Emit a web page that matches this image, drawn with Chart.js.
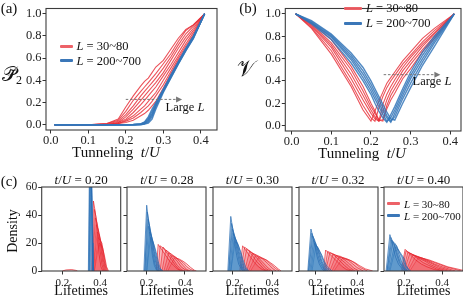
<!DOCTYPE html>
<html>
<head>
<meta charset="utf-8">
<script src="https://cdn.jsdelivr.net/npm/chart.js@4.4.1/dist/chart.umd.min.js"></script>
<style>
body { margin: 0; width: 463px; height: 297px; background: #fff; position: relative; overflow: hidden; font-family: 'Liberation Serif', 'Times New Roman', serif; color: #111; }
.lbl { position: absolute; white-space: nowrap; line-height: 1; }
.legline { position: absolute; height: 3px; border-radius: 1px; }
</style>
</head>
<body>
<script>
// ---- (a) purity vs tunneling, shared grid ----
const tA = [0.01, 0.1, 0.15, 0.18, 0.2, 0.22, 0.24, 0.25, 0.26, 0.27, 0.28, 0.3, 0.32, 0.34, 0.36, 0.38, 0.41];
const pRed = [
    [0, 0, 0.01, 0.05, 0.16, 0.26, 0.35, 0.39, 0.42, 0.47, 0.52, 0.58, 0.68, 0.78, 0.86, 0.9, 1.0],
    [0, 0, 0.01, 0.04, 0.12, 0.22, 0.3, 0.34, 0.38, 0.42, 0.46, 0.55, 0.64, 0.75, 0.85, 0.9, 1.0],
    [0, 0, 0.005, 0.03, 0.09, 0.17, 0.26, 0.3, 0.34, 0.38, 0.42, 0.51, 0.61, 0.72, 0.82, 0.89, 1.0],
    [0, 0, 0, 0.02, 0.07, 0.14, 0.22, 0.26, 0.3, 0.34, 0.38, 0.47, 0.58, 0.69, 0.79, 0.87, 1.0],
    [0, 0, 0, 0.02, 0.05, 0.11, 0.18, 0.22, 0.26, 0.3, 0.34, 0.44, 0.54, 0.65, 0.76, 0.85, 1.0],
    [0, 0, 0, 0.01, 0.04, 0.08, 0.14, 0.17, 0.21, 0.25, 0.29, 0.4, 0.51, 0.62, 0.73, 0.83, 1.0],
    [0, 0, 0, 0.01, 0.03, 0.06, 0.11, 0.14, 0.17, 0.21, 0.26, 0.36, 0.48, 0.6, 0.71, 0.81, 1.0],
    [0, 0, 0, 0.01, 0.02, 0.04, 0.08, 0.1, 0.13, 0.17, 0.21, 0.33, 0.46, 0.58, 0.69, 0.79, 1.0]
];
const pBlue = [
    [0, 0, 0, 0, 0, 0.002, 0.008, 0.025, 0.07, 0.14, 0.2, 0.32, 0.45, 0.57, 0.69, 0.8, 1.0],
    [0, 0, 0, 0, 0, 0.001, 0.006, 0.02, 0.055, 0.12, 0.19, 0.315, 0.44, 0.565, 0.685, 0.795, 1.0],
    [0, 0, 0, 0, 0, 0, 0.004, 0.015, 0.045, 0.1, 0.18, 0.31, 0.435, 0.56, 0.68, 0.79, 1.0],
    [0, 0, 0, 0, 0, 0, 0.003, 0.01, 0.035, 0.085, 0.17, 0.305, 0.43, 0.555, 0.675, 0.785, 1.0],
    [0, 0, 0, 0, 0, 0, 0.002, 0.008, 0.025, 0.07, 0.16, 0.3, 0.425, 0.55, 0.67, 0.78, 1.0],
    [0, 0, 0, 0, 0, 0, 0, 0.005, 0.015, 0.05, 0.14, 0.29, 0.42, 0.545, 0.665, 0.775, 1.0]
];

// ---- (b) visibility vs tunneling ----
const tB = [0.01, 0.05, 0.1, 0.15, 0.18, 0.2, 0.21, 0.22, 0.23, 0.24, 0.25, 0.26, 0.28, 0.3, 0.33, 0.36, 0.41];
const vRed = [
    [1, 0.87, 0.64, 0.35, 0.14, 0.04, 0.13, 0.22, 0.3, 0.38, 0.43, 0.48, 0.58, 0.66, 0.78, 0.87, 1],
    [1, 0.88, 0.67, 0.38, 0.18, 0.07, 0.04, 0.16, 0.26, 0.34, 0.4, 0.45, 0.55, 0.63, 0.75, 0.85, 1],
    [1, 0.89, 0.7, 0.42, 0.23, 0.11, 0.06, 0.04, 0.19, 0.28, 0.35, 0.41, 0.52, 0.61, 0.73, 0.83, 1],
    [1, 0.9, 0.72, 0.46, 0.27, 0.14, 0.08, 0.04, 0.12, 0.23, 0.31, 0.37, 0.49, 0.58, 0.71, 0.82, 1],
    [1, 0.91, 0.74, 0.5, 0.31, 0.17, 0.11, 0.05, 0.04, 0.18, 0.27, 0.33, 0.45, 0.55, 0.68, 0.8, 1],
    [1, 0.92, 0.77, 0.53, 0.35, 0.2, 0.13, 0.05, 0.05, 0.15, 0.23, 0.29, 0.42, 0.51, 0.66, 0.78, 1]
];
const vBlue = [
    [1, 0.91, 0.77, 0.56, 0.4, 0.28, 0.2, 0.13, 0.07, 0.03, 0.1, 0.17, 0.33, 0.48, 0.66, 0.8, 1],
    [1, 0.92, 0.79, 0.59, 0.43, 0.31, 0.24, 0.17, 0.1, 0.04, 0.07, 0.14, 0.3, 0.45, 0.63, 0.78, 1],
    [1, 0.92, 0.8, 0.61, 0.46, 0.34, 0.27, 0.2, 0.13, 0.07, 0.03, 0.11, 0.27, 0.42, 0.6, 0.76, 1],
    [1, 0.93, 0.81, 0.63, 0.49, 0.37, 0.3, 0.23, 0.16, 0.09, 0.04, 0.08, 0.24, 0.38, 0.57, 0.74, 1],
    [1, 0.94, 0.82, 0.65, 0.52, 0.4, 0.33, 0.26, 0.19, 0.12, 0.06, 0.05, 0.2, 0.34, 0.54, 0.71, 1]
];

// ---- (c) lifetime densities, [lifetime, density] pairs ----
const cTitles = ['0.20', '0.28', '0.30', '0.32', '0.40'];
const cRed020 = [
    [[0.355, 0], [0.365, 50], [0.375, 42], [0.385, 28], [0.395, 12], [0.405, 3], [0.415, 0]],
    [[0.36, 0], [0.37, 44], [0.38, 38], [0.39, 27], [0.4, 15], [0.41, 5], [0.42, 0]],
    [[0.36, 0], [0.375, 38], [0.385, 34], [0.395, 26], [0.405, 16], [0.415, 6], [0.425, 0]],
    [[0.365, 0], [0.38, 33], [0.39, 30], [0.4, 24], [0.41, 15], [0.42, 6], [0.43, 0]],
    [[0.365, 0], [0.385, 28], [0.395, 26], [0.405, 21], [0.415, 14], [0.425, 5], [0.435, 0]],
    [[0.37, 0], [0.39, 24], [0.4, 22], [0.41, 20], [0.42, 12], [0.43, 4], [0.44, 0]],
    [[0.37, 0], [0.395, 20], [0.405, 19], [0.415, 16], [0.425, 10], [0.435, 3], [0.445, 0]],
    [[0.2, 0], [0.22, 0.8], [0.25, 1], [0.27, 0.5], [0.28, 0]]
];
const cBlue020 = [
    [[0.338, 0], [0.344, 75], [0.352, 70], [0.358, 20], [0.362, 0]],
    [[0.341, 0], [0.347, 85], [0.355, 60], [0.36, 10], [0.365, 0]],
    [[0.343, 0], [0.35, 90], [0.357, 50], [0.362, 8], [0.367, 0]],
    [[0.346, 0], [0.353, 80], [0.36, 40], [0.366, 0]]
];
const cRed028 = [
    [[0.25, 0], [0.26, 19], [0.28, 15], [0.3, 11], [0.32, 7], [0.34, 4], [0.36, 1.5], [0.38, 0]],
    [[0.26, 0], [0.27, 18], [0.29, 16], [0.31, 12], [0.33, 8], [0.35, 4], [0.37, 1], [0.39, 0]],
    [[0.27, 0], [0.285, 17], [0.3, 15], [0.32, 12], [0.34, 8], [0.36, 4], [0.38, 1], [0.4, 0]],
    [[0.28, 0], [0.3, 15], [0.32, 13], [0.34, 10], [0.36, 7], [0.38, 3], [0.4, 1], [0.42, 0]],
    [[0.29, 0], [0.315, 13], [0.33, 12], [0.35, 10], [0.37, 7], [0.39, 4], [0.41, 1], [0.43, 0]],
    [[0.3, 0], [0.33, 11], [0.35, 10], [0.37, 8], [0.39, 6], [0.41, 3], [0.43, 1], [0.45, 0]],
    [[0.31, 0], [0.345, 9.5], [0.37, 8.5], [0.39, 7], [0.41, 5], [0.43, 2.5], [0.45, 0.5], [0.46, 0]]
];
const cBlue028 = [
    [[0.185, 0], [0.2, 47], [0.21, 35], [0.22, 22], [0.23, 11], [0.24, 4], [0.25, 1], [0.26, 0]],
    [[0.19, 0], [0.203, 42], [0.213, 34], [0.223, 24], [0.233, 13], [0.243, 5], [0.255, 1], [0.265, 0]],
    [[0.19, 0], [0.207, 37], [0.217, 31], [0.227, 23], [0.237, 14], [0.247, 6], [0.26, 1], [0.27, 0]],
    [[0.195, 0], [0.21, 32], [0.22, 28], [0.23, 22], [0.24, 14], [0.25, 7], [0.262, 2], [0.275, 0]],
    [[0.2, 0], [0.215, 28], [0.225, 25], [0.235, 20], [0.245, 14], [0.255, 7], [0.265, 2], [0.28, 0]],
    [[0.2, 0], [0.22, 24], [0.23, 22], [0.24, 18], [0.25, 13], [0.26, 7], [0.27, 2], [0.285, 0]]
];
const cRed030 = [
    [[0.235, 0], [0.25, 18], [0.27, 14], [0.29, 10], [0.31, 6], [0.33, 3], [0.35, 1], [0.37, 0]],
    [[0.24, 0], [0.26, 17], [0.28, 15], [0.3, 11], [0.32, 7], [0.34, 4], [0.36, 1], [0.38, 0]],
    [[0.25, 0], [0.27, 15.5], [0.29, 14], [0.31, 11], [0.33, 8], [0.35, 4.5], [0.37, 1.5], [0.39, 0]],
    [[0.26, 0], [0.285, 14], [0.3, 13], [0.32, 11], [0.34, 8], [0.36, 5], [0.38, 2], [0.4, 0]],
    [[0.27, 0], [0.3, 12.5], [0.32, 11.5], [0.34, 10], [0.36, 7.5], [0.38, 5], [0.4, 2], [0.42, 0]],
    [[0.28, 0], [0.315, 11], [0.335, 10], [0.355, 9], [0.375, 7], [0.395, 4.5], [0.415, 2], [0.435, 0]],
    [[0.29, 0], [0.33, 9.5], [0.35, 9], [0.37, 8], [0.39, 6], [0.41, 4], [0.43, 1.5], [0.445, 0]]
];
const cBlue030 = [
    [[0.175, 0], [0.19, 39], [0.2, 30], [0.21, 20], [0.22, 11], [0.23, 5], [0.245, 1], [0.255, 0]],
    [[0.18, 0], [0.194, 34], [0.204, 28], [0.214, 21], [0.224, 13], [0.234, 6], [0.248, 1.5], [0.26, 0]],
    [[0.18, 0], [0.198, 30], [0.208, 26], [0.218, 21], [0.228, 14], [0.238, 7], [0.25, 2], [0.265, 0]],
    [[0.185, 0], [0.202, 27], [0.212, 24], [0.222, 20], [0.232, 14], [0.242, 8], [0.255, 2], [0.27, 0]],
    [[0.19, 0], [0.207, 24], [0.217, 22], [0.227, 19], [0.237, 14], [0.247, 8], [0.26, 2.5], [0.275, 0]],
    [[0.19, 0], [0.212, 21], [0.222, 20], [0.232, 17], [0.242, 13], [0.252, 8], [0.265, 3], [0.28, 0]]
];
const cRed032 = [
    [[0.24, 0], [0.25, 15], [0.27, 12], [0.29, 9], [0.31, 6], [0.33, 3], [0.35, 1], [0.37, 0]],
    [[0.245, 0], [0.26, 14], [0.28, 12.5], [0.3, 10], [0.32, 7], [0.34, 4], [0.36, 1.5], [0.38, 0]],
    [[0.25, 0], [0.27, 13], [0.29, 12], [0.31, 10], [0.33, 7.5], [0.35, 5], [0.37, 2], [0.39, 0]],
    [[0.26, 0], [0.285, 12], [0.305, 11], [0.325, 9.5], [0.345, 7.5], [0.365, 5], [0.385, 2], [0.41, 0]],
    [[0.27, 0], [0.3, 11], [0.32, 10.5], [0.34, 9], [0.36, 7.5], [0.38, 5], [0.4, 2.5], [0.43, 0]],
    [[0.28, 0], [0.315, 10], [0.335, 9.5], [0.355, 8.5], [0.375, 7], [0.395, 5], [0.415, 2.5], [0.45, 0]],
    [[0.29, 0], [0.33, 9], [0.35, 8.5], [0.37, 7.5], [0.39, 6], [0.41, 4], [0.44, 1.5], [0.475, 0]]
];
const cBlue032 = [
    [[0.165, 0], [0.18, 30], [0.19, 24], [0.2, 17], [0.21, 10], [0.22, 5], [0.235, 1], [0.245, 0]],
    [[0.168, 0], [0.184, 27], [0.194, 23], [0.204, 17], [0.214, 11], [0.224, 6], [0.238, 2], [0.25, 0]],
    [[0.17, 0], [0.188, 25], [0.198, 22], [0.208, 17], [0.218, 12], [0.228, 7], [0.242, 2], [0.255, 0]],
    [[0.175, 0], [0.192, 22], [0.202, 20], [0.212, 16], [0.222, 12], [0.232, 7], [0.246, 2.5], [0.262, 0]],
    [[0.18, 0], [0.197, 20], [0.207, 18], [0.217, 15], [0.227, 12], [0.237, 8], [0.25, 3], [0.27, 0]],
    [[0.185, 0], [0.203, 18], [0.213, 17], [0.223, 14], [0.233, 11], [0.243, 7], [0.258, 3], [0.28, 0]]
];
const cRed040 = [
    [[0.185, 0], [0.205, 15.5], [0.23, 12], [0.26, 8], [0.29, 5], [0.32, 3], [0.36, 1], [0.4, 0]],
    [[0.19, 0], [0.21, 14.5], [0.24, 12], [0.27, 9], [0.3, 6], [0.33, 4], [0.37, 1.5], [0.41, 0]],
    [[0.195, 0], [0.22, 13.5], [0.25, 11.5], [0.28, 9], [0.31, 7], [0.34, 4.5], [0.38, 2], [0.43, 0]],
    [[0.2, 0], [0.23, 12.5], [0.26, 11], [0.29, 9], [0.32, 7], [0.35, 5], [0.39, 2.5], [0.45, 0]],
    [[0.21, 0], [0.245, 11.5], [0.27, 10.5], [0.3, 9], [0.33, 7], [0.36, 5], [0.4, 3], [0.47, 0]],
    [[0.22, 0], [0.26, 10.5], [0.29, 9.5], [0.32, 8], [0.35, 6.5], [0.38, 5], [0.42, 3], [0.5, 0]],
    [[0.23, 0], [0.275, 9.5], [0.3, 9], [0.33, 8], [0.36, 6.5], [0.39, 5], [0.43, 3], [0.51, 0.5]]
];
const cBlue040 = [
    [[0.105, 0], [0.125, 26], [0.135, 21], [0.145, 15], [0.155, 10], [0.17, 5], [0.19, 1.5], [0.2, 0]],
    [[0.11, 0], [0.13, 24], [0.14, 21], [0.15, 17], [0.16, 12], [0.175, 6], [0.195, 2], [0.21, 0]],
    [[0.11, 0], [0.135, 22], [0.145, 20], [0.155, 17], [0.165, 12], [0.18, 6], [0.2, 2], [0.215, 0]],
    [[0.115, 0], [0.14, 21], [0.15, 20], [0.16, 18], [0.17, 13], [0.185, 7], [0.2, 3], [0.22, 0]],
    [[0.12, 0], [0.15, 19], [0.16, 18], [0.17, 15], [0.18, 12], [0.19, 10], [0.2, 6], [0.215, 2], [0.23, 0]],
    [[0.125, 0], [0.155, 17], [0.165, 16], [0.175, 14], [0.185, 12], [0.2, 9], [0.21, 4], [0.225, 1], [0.235, 0]]
];
const cXlim = [[0.09, 0.51], [0.097, 0.51], [0.1, 0.5], [0.123, 0.5], [0.094, 0.51]];

const tickT = [0, 0.1, 0.2, 0.3, 0.4];
const tickP = [0, 0.2, 0.4, 0.6, 0.8, 1.0];
const tickLife = [0.2, 0.4];
const tickDens = [0, 20, 40, 60];

const RED = 'rgba(230, 44, 54, 0.82)';
const BLUE = 'rgba(52, 118, 184, 0.85)';

Chart.defaults.font.family = "'Liberation Serif', 'Times New Roman', serif";
Chart.defaults.color = '#222';

const framePlugin = {
    id: 'frame',
    afterDraw(chart) {
        let a = chart.chartArea, ctx = chart.ctx;
        ctx.save();
        ctx.strokeStyle = '#3c3c3c';
        ctx.lineWidth = 1.1;
        ctx.strokeRect(a.left, a.top, a.right - a.left, a.bottom - a.top);
        ctx.restore();
    }
};

const arrowPlugin = {
    id: 'arrow',
    afterDatasetsDraw(chart, args, o) {
        if (!o || o.x0 == null) return;
        let ctx = chart.ctx;
        let x0 = chart.scales.x.getPixelForValue(o.x0);
        let x1 = chart.scales.x.getPixelForValue(o.x1);
        let y = chart.scales.y.getPixelForValue(o.y);
        ctx.save();
        ctx.strokeStyle = '#777';
        ctx.fillStyle = '#777';
        ctx.lineWidth = 1;
        ctx.setLineDash([2.5, 1.8]);
        ctx.beginPath();
        ctx.moveTo(x0, y);
        ctx.lineTo(x1 - 5, y);
        ctx.stroke();
        ctx.setLineDash([]);
        ctx.beginPath();
        ctx.moveTo(x1, y);
        ctx.lineTo(x1 - 6, y - 3);
        ctx.lineTo(x1 - 6, y + 3);
        ctx.closePath();
        ctx.fill();
        ctx.restore();
    }
};

function makePanel(box, cfg) {
    let c = document.createElement('canvas');
    let left = box.l - cfg.yW, top = box.t - cfg.padT;
    let w = Math.round(cfg.yW + box.w + cfg.padR), h = Math.round(cfg.padT + box.h + cfg.xH);
    c.width = w;
    c.height = h;
    c.style.cssText = 'position:absolute;left:' + left + 'px;top:' + top + 'px;width:' + w + 'px;height:' + h + 'px';
    document.body.appendChild(c);
    return new Chart(c, {
        type: 'line',
        data: { datasets: cfg.datasets },
        options: {
            responsive: false,
            animation: false,
            devicePixelRatio: 1,
            layout: { padding: { top: cfg.padT, right: w - cfg.yW - box.w, left: 0, bottom: 0 } },
            plugins: { legend: { display: false }, tooltip: { enabled: false }, arrow: cfg.arrow || {} },
            elements: { point: { radius: 0 }, line: { tension: 0 } },
            scales: {
                x: {
                    type: 'linear', min: cfg.xMin, max: cfg.xMax,
                    afterBuildTicks: ax => { ax.ticks = cfg.xTicks.map(v => ({ value: v })); },
                    afterFit: s => { s.height = cfg.xH; },
                    grid: { drawOnChartArea: false, tickLength: 3.5, color: '#333' },
                    border: { display: false },
                    ticks: { padding: cfg.xPad, maxRotation: 0, autoSkip: false, font: { size: cfg.fs }, color: '#222',
                        callback: v => v.toFixed(1) }
                },
                y: {
                    min: cfg.yMin, max: cfg.yMax,
                    afterBuildTicks: ax => { ax.ticks = cfg.yTicks.map(v => ({ value: v })); },
                    afterFit: s => { s.width = cfg.yW; },
                    grid: { drawOnChartArea: false, tickLength: 3.5, color: '#333' },
                    border: { display: false },
                    ticks: { padding: 1, font: { size: cfg.fsY || cfg.fs }, color: '#222',
                        callback: v => cfg.yLabels ? cfg.yFmt(v) : '' }
                }
            }
        },
        plugins: [framePlugin, arrowPlugin]
    });
}

function lineSets(grid, rows, color, width, order) {
    return rows.map(r => ({
        data: grid.map((t, i) => ({ x: t, y: r[i] })),
        borderColor: color, borderWidth: width, fill: false, order: order
    }));
}

function areaSets(curves, line, fillC, order) {
    return curves.map(cv => ({
        data: cv.map(p => ({ x: p[0], y: p[1] })),
        borderColor: line, borderWidth: 0.8, backgroundColor: fillC, fill: 'origin', order: order
    }));
}

function txt(html, x, y, size, align, extra) {
    let d = document.createElement('div');
    d.className = 'lbl';
    d.innerHTML = html;
    d.style.left = x + 'px';
    d.style.top = y + 'px';
    d.style.fontSize = size + 'px';
    d.style.transform = (align === 'l' ? 'translate(0,-50%)' : 'translate(-50%,-50%)') + (extra || '');
    document.body.appendChild(d);
}

function legend(x, y, gap, len, size, items) {
    items.forEach((it, i) => {
        let l = document.createElement('div');
        l.className = 'legline';
        l.style.cssText += ';left:' + x + 'px;top:' + (y + i * gap - 1.5) + 'px;width:' + len + 'px;background:' + it.c;
        document.body.appendChild(l);
        txt(it.t, x + len + 4, y + i * gap, size, 'l');
    });
}

// panel (a)
makePanel({ l: 46, t: 1, w: 171, h: 129 }, {
    yW: 46, xH: 20, padT: 1, padR: 5, xPad: 0, fs: 12.5,
    xMin: -0.0125, xMax: 0.443, yMin: -0.048, yMax: 1.048,
    xTicks: tickT, yTicks: tickP, yLabels: true, yFmt: v => v.toFixed(1),
    arrow: { x0: 0.2, x1: 0.35, y: 0.228 },
    datasets: lineSets(tA, pRed, RED, 1.1, 2).concat(lineSets(tA, pBlue, BLUE, 1.4, 1))
});

// panel (b)
makePanel({ l: 285.3, t: 1, w: 175.7, h: 129.5 }, {
    yW: 45.3, xH: 20, padT: 1, padR: 2, xPad: 0, fs: 12.5,
    xMin: -0.016, xMax: 0.427, yMin: -0.048, yMax: 1.048,
    xTicks: tickT, yTicks: tickP, yLabels: true, yFmt: v => v.toFixed(1),
    arrow: { x0: 0.232, x1: 0.375, y: 0.456 },
    datasets: lineSets(tB, vRed, RED, 1.1, 2).concat(lineSets(tB, vBlue, BLUE, 1.4, 1))
});

// panel (c)
const cRed = [cRed020, cRed028, cRed030, cRed032, cRed040];
const cBlue = [cBlue020, cBlue028, cBlue030, cBlue032, cBlue040];
const cLeft = [41.7, 127.3, 212.9, 298.5, 384.1];
cLeft.forEach((l, i) => {
    makePanel({ l: l, t: 186.7, w: 79, h: 83.6 }, {
        yW: i === 0 ? 41.7 : 8, xH: 16, padT: 8, padR: i === 4 ? 0 : 3, xPad: 2, fs: 11, fsY: 11.5,
        xMin: cXlim[i][0], xMax: cXlim[i][1], yMin: 0, yMax: 60,
        xTicks: tickLife, yTicks: tickDens, yLabels: i === 0, yFmt: v => String(v),
        datasets: areaSets(cRed[i], 'rgba(228, 32, 42, 0.85)', 'rgba(242, 72, 82, 0.2)', 2)
            .concat(areaSets(cBlue[i], 'rgba(40, 108, 178, 0.9)', 'rgba(60, 128, 194, 0.24)', 1))
    });
    txt('<i>t</i>/<i>U</i> = ' + cTitles[i], l + 39.5, 179, 13, 'c');
    txt('Lifetimes', l + 39.5, 291, 14, 'c');
});

// text
txt('(a)', 9, 7.5, 15, 'c');
txt('(b)', 248, 7.5, 15, 'c');
txt('(c)', 9, 180.5, 15, 'c');
txt('𝒫&#771;<sub style="font-size:0.6em;vertical-align:-0.25em">2</sub>', 12, 75, 20, 'c');
txt('𝒱', 246, 69, 22, 'c');
txt('Density', 13, 231, 14, 'c', ' rotate(-90deg)');
txt('Tunneling&nbsp; <i>t</i>/<i>U</i>', 116, 152, 15, 'c');
txt('Tunneling&nbsp; <i>t</i>/<i>U</i>', 362, 152.5, 15, 'c');
txt('Large <i>L</i>', 165.5, 107.2, 12.5, 'l');
txt('Large <i>L</i>', 412.5, 81.2, 12.5, 'l');

const LEG_RED = 'rgba(236, 90, 96, 0.95)';
const LEG_BLUE = 'rgba(48, 112, 180, 0.95)';
legend(60, 46, 14.7, 12.5, 12.5, [{ c: LEG_RED, t: '<i>L</i> = 30~80' }, { c: LEG_BLUE, t: '<i>L</i> = 200~700' }]);
legend(344, 8.3, 14.7, 18, 12.5, [{ c: LEG_RED, t: '<i>L</i> = 30~80' }, { c: LEG_BLUE, t: '<i>L</i> = 200~700' }]);
legend(387, 203.5, 12.3, 13, 11, [{ c: LEG_RED, t: '<i>L</i> = 30~80' }, { c: LEG_BLUE, t: '<i>L</i> = 200~700' }]);
</script>
</body>
</html>
